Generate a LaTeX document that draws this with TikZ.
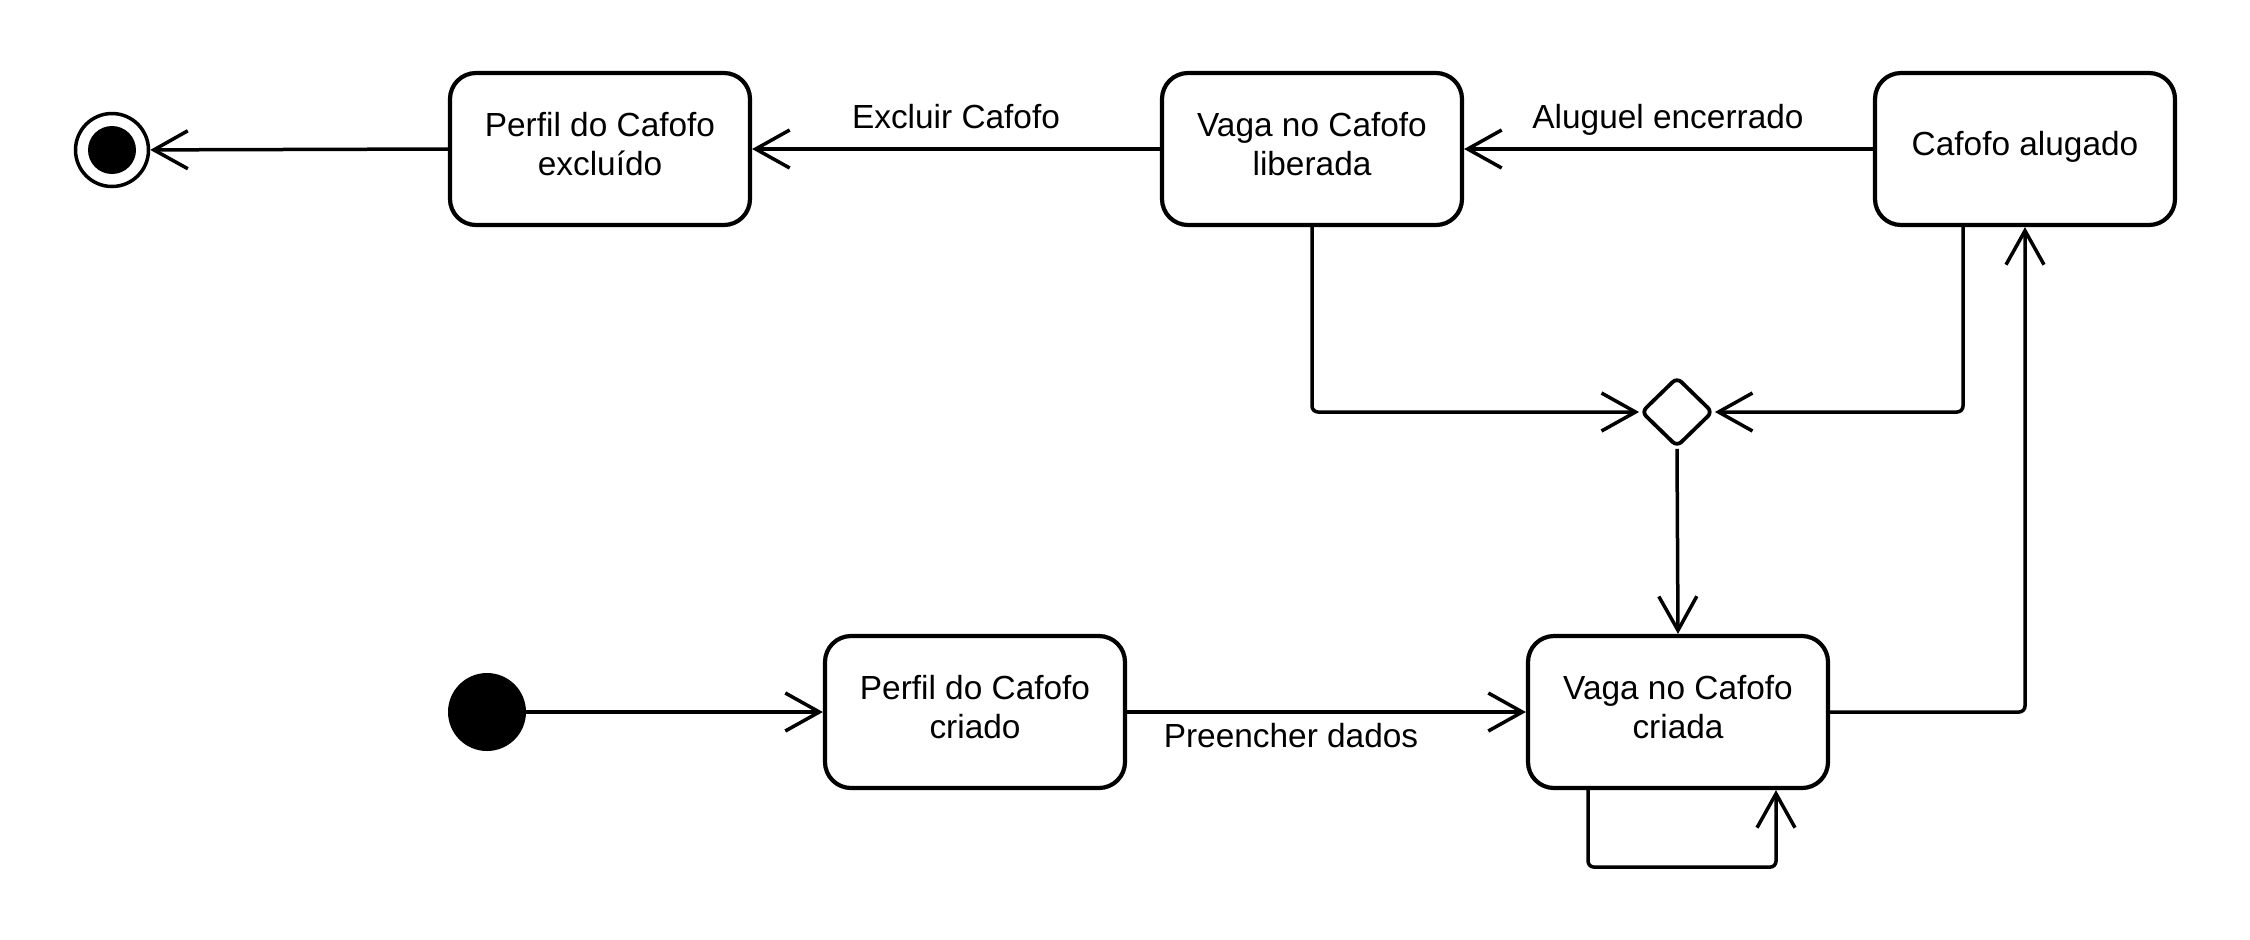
\documentclass[tikz,border=0pt]{standalone}
\usepackage{fontspec}
\setmainfont{Liberation Sans}
\usetikzlibrary{arrows.meta,shapes.geometric}
\begin{document}
\begin{tikzpicture}[x=0.5pt,y=-0.5pt,
  statebox/.style={draw, line width=2.1pt, rounded corners=13pt, minimum width=150pt, minimum height=76pt,
    inner sep=0pt},
  boxtext/.style={align=center, inner sep=0pt, font=\fontsize{16.7pt}{19.5pt}\selectfont},
  conn/.style={line width=1.75pt, rounded corners=3pt,
    -{Straight Barb[length=17pt,width=19pt,line width=1.75pt]}},
  lbl/.style={font=\fontsize{16.7pt}{19.5pt}\selectfont, inner sep=0pt, anchor=base}]
\fill[white] (0,0) rectangle (2250,939);
\useasboundingbox (0,0) rectangle (2250,939);
% states
\node[statebox] (excl) at (600,149) {};
\node[statebox] (lib) at (1312,149) {};
\node[statebox] (alug) at (2025,149) {};
\node[statebox] (criado) at (975,712) {};
\node[statebox] (criada) at (1678,712) {};
\node[boxtext] (excl-t) at ([yshift=2.5pt]excl.center) {Perfil do Cafofo\\excluído};
\node[boxtext] (lib-t) at ([yshift=2.5pt]lib.center) {Vaga no Cafofo\\liberada};
\node[boxtext] (alug-t) at ([yshift=1pt]alug.center) {Cafofo alugado};
\node[boxtext] (criado-t) at ([yshift=2.5pt]criado.center) {Perfil do Cafofo\\criado};
\node[boxtext] (criada-t) at ([yshift=2.5pt]criada.center) {Vaga no Cafofo\\criada};
\node[diamond, draw, line width=1.9pt, minimum width=36pt, minimum height=35pt, inner sep=0pt, rounded corners=3pt] (dec) at (1677,412) {};
\node[circle, fill, minimum size=39pt, inner sep=0pt] (init) at (487,712) {};
\node[circle, draw, line width=1.75pt, minimum size=36.5pt, inner sep=0pt] (fin) at (112,150) {};
\node[circle, fill, minimum size=24pt, inner sep=0pt] (finin) at (fin.center) {};
% labels
\node[lbl] (lexc) at (956,128) {Excluir Cafofo};
\node[lbl] (lalu) at (1668,128) {Aluguel encerrado};
\node[lbl] (lpre) at (1291,747) {Preencher dados};
% connectors
\draw[conn] (lib.west) -- (excl.east);
\draw[conn] (alug.west) -- (lib.east);
\draw[conn] (excl.west) -- (fin);
\draw[conn] (lib.south) |- (dec.west);
\draw[conn] ([xshift=-31pt]alug.south) |- (dec.east);
\draw[conn] (dec.south) -- (criada.north);
\draw[conn] (init) -- (criado.west);
\draw[conn] (criado.east) -- (criada.west);
\draw[conn] (criada.east) -| (alug.south);
\draw[conn] ([xshift=-45pt]criada.south) -- ++(0,77) -| ([xshift=49pt]criada.south);
\end{tikzpicture}
\end{document}
